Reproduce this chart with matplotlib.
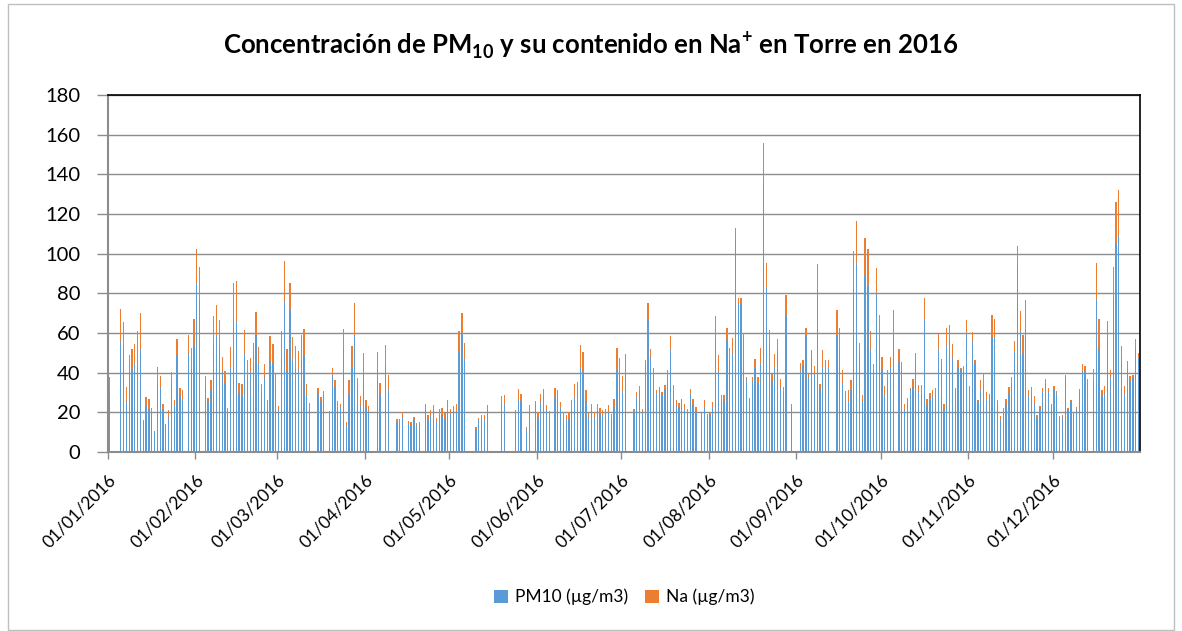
import numpy as np
import pandas as pd
import matplotlib
matplotlib.use('Agg')
import matplotlib.pyplot as plt
import matplotlib.dates as mdates
from matplotlib.patches import Rectangle

# Estilo y fuentes
plt.rcParams.update({
    "font.family": "Lato",
    "mathtext.fontset": "custom",
    "mathtext.rm": "Lato",
    "mathtext.bf": "Lato:bold",
})

N = np.nan  # días sin muestra

# PM10 diario (µg/m3), un bloque por mes
pm10 = (
    [31, N, N, N, 56, 53, 25.7, 40.7, 42, 44.5, 47, 52, 15, 23, 21.8, 20.2, 10, 34, 32.8, 21.8,
     13, 17.6, 33.6, 23.5, 48.7, 28.6, 26.4, N, 49.9, 42, 53.3] +
    [84.9, 76.8, N, 32.8, 25.7, 31.6, 55, 58.5, 53, 40.3, 34.8, 19, 42.9, 67.7, 66, 29.7, 28.6, 49.6,
     38.7, 40.3, 44.5, 58.8, 44.9, 29, 37.8, 21.8, 45.9, 44.9, 32.8] +
    [21, 47.9, 76, 40.7, 71.8, 46.6, 42, 42, 46.6, 48.7, 28.9, 21.8, N, N, 29.7, 25.7, 28.6, N, 19, 38.7,
     32.8, 22.7, 22.7, 52.6, 13.8, 29, 42.9, 58.8, 31.6, 23.9, 39.8] +
    [22.7, 20.7, N, N, 41.5, 29.7, N, 43.7, 31.6, N, N, 15.1, 14.8, 17.6, N, 14.3, 13.8, 16, 13.8, 13.8,
     N, 21.8, 16.8, 18.8, 21, 15.5, 18.5, 18.5, 16.8, 21.8] +
    [19, 20.5, 20.5, 50.8, 59.7, 47.1, N, N, N, 11.4, 16, 16.8, 16, 21.8, N, N, N, N, 23.5, 24.7,
     N, N, N, 19.8, 26.9, 25.7, N, 11.4, 20.2, N, 23.5] +
    [17.6, 25.7, 28.6, 21.8, 19.7, N, 27.7, 27.7, 22.4, 16.8, 16.8, 16.8, 20.7, 27.7, 29.7, 42.9, 40.3,
     25.7, 17.6, 20.7, 17.6, 20.7, 19, 18.5, 19.7, 20.2, 16, 22.7, 41.5, 38.7] +
    [30.6, 39.5, N, N, 20.2, 27.7, 30.6, 20.7, 43.7, 66.7, 47.9, 39.5, 29.7, 31.4, 28.6, 31.6, 37.8,
     51.6, 30.6, 23.5, 22.7, 23.5, 21.3, 20.2, 29.4, 23.5, 20.7, N, 17.6, 22.7, 17.6] +
    [18.5, 22.4, 56, 40.7, 25.7, 25.7, 56.6, 46.6, 49.9, 106.7, 74.8, 74.8, 58.5, 36.5, 26.4, 35.8, 42.5,
     34.8, 44.9, 135.8, 82.7, 55, 35.8, 42.9, 51.6, 32.8, 29.7, 68.6, N, 22.7, N] +
    [N, 40.3, 43.7, 58.8, 37.8, 47.9, 39.8, 81.5, 31.9, 42.9, 40.7, 42.9, N, N, 58.8, 51.6, 34.8, 26.9,
     25.2, 31.1, 82.9, 95, 48.7, 25.7, 88.7, 83.7, 51.8, 41.5, 79.8, 57.6] +
    [42, 28.9, 37, 42.9, 59.7, N, 45.9, 40.7, 21.8, 25.7, 31.9, 32.8, 44.9, 30.8, 29.4, 66.7, 23.9, 26,
     28.1, 28.9, 51.6, 43.7, 21.8, 53.8, 56, 47.9, 30.6, 42.9, 41.5, 39.8, 59.7] +
    [31.6, 56, 44.9, 25.7, 31.6, 33.6, 26.6, 25.7, 57.6, 57.6, 24.4, 16.8, 19.8, 23.5, 29.7, 34.8, 50.4,
     93.8, 60.5, 49.9, 61.7, 28.1, 29, 24.7, 17.3, 21.8, 30.6, 34.5, 30.6, 23.2] +
    [31.6, 29.4, 17.3, 17.3, 37.5, 21.3, 25.5, 19.7, 21.3, 29.7, 40.7, 40.7, 35.8, N, 35.8, 76.8, 52.1,
     28.9, 29.7, 56.6, 37.8, 77.8, 105, 108.9, 47.6, 29.7, 41.7, 35.8, 37.3, 52.6, 47.6]
)

# Na diario (µg/m3)
na = (
    [7, N, N, N, 16, 12.5, 7, 8, 10, 10, 14, 18, 1.2, 4.7, 4.8, 2, 0.4, 9, 5.7, 2.6,
     1.3, 3.7, 6.7, 2.9, 8.3, 3.7, 5, N, 8.9, 10.6, 13.9] +
    [17.3, 16.5, N, 5.4, 1.7, 4.5, 13.4, 15.5, 13.4, 7.6, 5.9, 3.2, 10.1, 17.5, 20, 5.1, 5.5, 12.1,
     7.9, 7.1, 10.6, 11.8, 8.1, 5.1, 6.4, 4.6, 12.6, 9.7, 6.4] +
    [2.4, 12.9, 20.1, 11.1, 13.4, 11.4, 11.3, 8.9, 12.2, 13.5, 5.6, 3.1, N, N, 2.7, 2, 2, N, 1.7, 3.7,
     3.3, 2.8, 1.7, 9.2, 1.3, 7.1, 10.5, 16.3, 5.7, 4.3, 10.1] +
    [3.7, 2.5, N, N, 8.9, 5.1, N, 10.1, 7.4, N, N, 1.7, 2, 2.6, N, 1.2, 1.2, 1.6, 1, 1.3,
     N, 2.6, 1.7, 2.2, 2.5, 1.6, 3.3, 3.7, 2.9, 4.2] +
    [2.8, 2.5, 3.9, 10, 10.4, 8, N, N, N, 1.2, 1.3, 1.7, 2.5, 1.7, N, N, N, N, 4.6, 3.9,
     N, N, N, 1.5, 5, 3.7, N, 1.2, 3.3, N, 2] +
    [2.6, 3.7, 3.3, 1.7, 1, N, 4.6, 3.4, 2.8, 3.4, 1.7, 3.4, 5.3, 6.4, 5.6, 11.2, 10.1, 5.4, 2.2, 3.7,
     2.6, 3.7, 3.2, 2.5, 2.1, 3.5, 3, 4.2, 11.1, 8.7] +
    [7.7, 9.7, N, N, 1.6, 2.6, 2.5, 1.1, 2.9, 8.6, 4.2, 3, 1.4, 1.4, 1.7, 2, 3.4, 6.9, 3, 2.5,
     2.2, 3.4, 2.7, 1.3, 2.2, 3.1, 2, N, 2.2, 3.3, 1.4] +
    [1.3, 2.8, 12.4, 8, 2.9, 2.9, 5.9, 6, 7.6, 6.2, 2.8, 3, 1.5, 1.3, 1, 2, 4.2, 3, 7.7, 20.2,
     12.8, 6.3, 3.4, 6.7, 5.5, 4.2, 3.1, 10.4, N, 1.3, N] +
    [N, 4.7, 2.9, 3.7, 1.7, 3.7, 3.4, 13.1, 2.2, 8.7, 5.5, 3.7, N, N, 12.6, 11.1, 6.7, 3.7, 6.2, 5,
     18.4, 21.3, 6.4, 2.9, 19.4, 18.5, 9, 3, 13.1, 11.3] +
    [5.9, 4.4, 4.5, 5, 12.1, N, 6.2, 4.7, 2.2, 1.7, 0.5, 3.8, 5, 2.8, 4.5, 10.9, 3, 3.9, 3, 3.5,
     8.1, 3.4, 2.2, 8.9, 8.2, 6.4, 1.7, 3.3, 0.9, 3.4, 7] +
    [1.7, 4.5, 1.7, 0.7, 4.9, 6.2, 3.7, 3.4, 11.3, 9.6, 1.6, 1.4, 2.4, 3.4, 3.1, 3, 5.4, 10.1, 10.6, 8.9,
     15.1, 3, 3.8, 3.4, 1.2, 1.2, 1.7, 2.5, 1.7, 1.2] +
    [1.5, 1.2, 0.7, 1.5, 1.2, 1.1, 0.9, 0.5, 1.4, 2.2, 3.5, 2.7, 1.2, N, 5.9, 18.7, 14.8, 2.2, 3.6, 9.4,
     3.7, 15.5, 21, 23, 5.7, 3.4, 4, 2.4, 1.4, 4.5, 2.3]
)

dates = pd.date_range('2016-01-01', '2016-12-31', freq='D')
month_starts = pd.date_range('2016-01-01', '2016-12-01', freq='MS')

pm10 = np.array(pm10, dtype=float)
na = np.array(na, dtype=float)
assert len(pm10) == len(na) == len(dates)

fig = plt.figure(figsize=(11.82, 6.31), dpi=100)
W, H = 1182, 631
ax = fig.add_axes([108 / W, 1 - 452 / H, (1140 - 108) / W, (452 - 95) / H])

# barras apiladas: PM10 abajo, Na encima
x = mdates.date2num(dates) + 0.5
ax.bar(x, pm10, width=0.45, color='#5B9BD5', label='PM10 (µg/m3)', zorder=3)
ax.bar(x, na, width=0.45, bottom=pm10, color='#ED7D31', label='Na (µg/m3)', zorder=3)

ax.set_xlim(mdates.date2num(pd.Timestamp('2016-01-01')), mdates.date2num(pd.Timestamp('2017-01-01')))
ax.set_ylim(0, 180)
ax.set_yticks(np.arange(0, 181, 20))
ax.grid(axis='y', color='#8C8C8C', linewidth=1.0, zorder=0)

ax.set_xticks(mdates.date2num(month_starts))
ax.set_xticklabels([d.strftime('%d/%m/%Y') for d in month_starts], rotation=45,
                   ha='right', rotation_mode='anchor', fontsize=12.5)
ax.tick_params(axis='y', length=8, width=1, color='#8C8C8C', labelsize=14.5, pad=12)
ax.tick_params(axis='x', length=5, width=1, color='#8C8C8C', pad=9)

for side in ('top', 'right'):
    ax.spines[side].set_color('black')
    ax.spines[side].set_linewidth(1.2)
for side in ('left', 'bottom'):
    ax.spines[side].set_color('#8C8C8C')
    ax.spines[side].set_linewidth(1.5)

fig.text(0.5, 1 - 45 / H,
         r'Concentración de PM$_{\mathbf{10}}$ y su contenido en Na$^{\mathbf{+}}$ en Torre en 2016',
         ha='center', va='center', fontsize=18.5, fontweight='bold')

# leyenda centrada bajo el área de trazado
fig.legend(loc='center', bbox_to_anchor=((108 + 1140) / 2 / W, 1 - 597 / H), ncol=2, frameon=False,
           fontsize=12.5, handlelength=0.8, handleheight=0.8, columnspacing=1.0, handletextpad=0.4)

# borde del gráfico
fig.patches.append(Rectangle((8 / W, 1 / H), 1 - 16 / W, 1 - 5 / H, transform=fig.transFigure,
                             fill=False, edgecolor='#BFBFBF', linewidth=1.0))

fig.savefig('out.png', dpi=100)
